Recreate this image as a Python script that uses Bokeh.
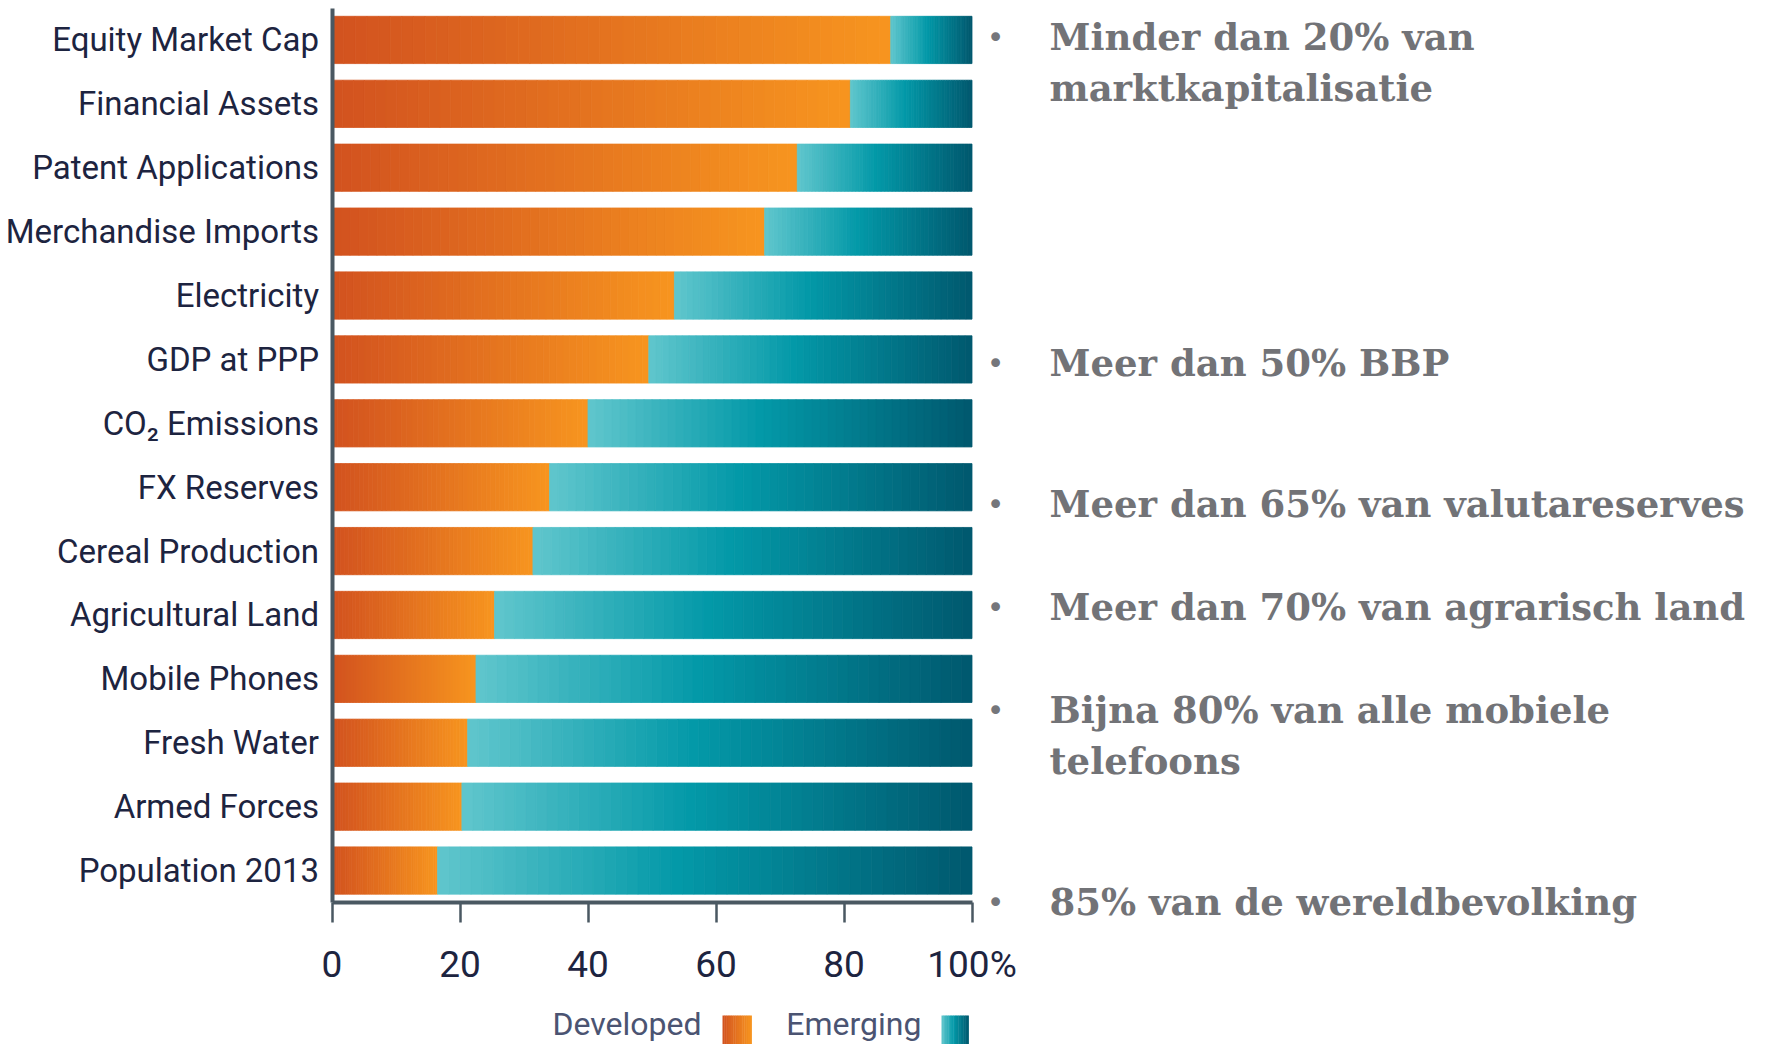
import numpy as np
from bokeh.plotting import figure
from bokeh.models import ColumnDataSource, FixedTicker, Range1d
from bokeh.core.properties import value
from bokeh.embed import file_html
from bokeh.resources import INLINE

# ---------------- data ----------------
categories = ["Equity Market Cap", "Financial Assets", "Patent Applications",
              "Merchandise Imports", "Electricity", "GDP at PPP", "CO\u2082 Emissions",
              "FX Reserves", "Cereal Production", "Agricultural Land", "Mobile Phones",
              "Fresh Water", "Armed Forces", "Population 2013"]
developed = [87.3, 81.0, 72.7, 67.6, 53.5, 49.5, 40.0, 34.0, 31.4, 25.4, 22.5, 21.2, 20.3, 16.5]
emerging = [round(100 - d, 1) for d in developed]
x_ticks = [0, 20, 40, 60, 80, 100]
x_tick_labels = ["0", "20", "40", "60", "80", "100%"]
series_names = ["Developed", "Emerging"]
notes = [
    ["Minder dan 20% van", "marktkapitalisatie"],
    ["Meer dan 50% BBP"],
    ["Meer dan 65% van valutareserves"],
    ["Meer dan 70% van agrarisch land"],
    ["Bijna 80% van alle mobiele", "telefoons"],
    ["85% van de wereldbevolking"],
]

# ---------------- canvas geometry (pixels) ----------------
W, H = 1760, 1044
X0_PX, X100_PX = 331.5, 971.5          # x = 0 and x = 100
YTOP_PX, YBOT_PX = 7.5, 902.0          # top of first row, bottom of last row
PX_X = (X100_PX - X0_PX) / 100.0
n = len(categories)
PX_Y = (YBOT_PX - YTOP_PX) / n
TEXT_SHIFT = 13.5                      # svg alphabetic-baseline correction


def fx(px):
    return (px - X0_PX) / PX_X


def fy(py):
    return (YBOT_PX - py) / PX_Y


ypos = [n - 0.5 - i for i in range(n)]   # row centres, first category on top

ORANGE = [(0.0, (210, 82, 31)), (1.0, (247, 149, 31))]
TEAL = [(0.0, (96, 198, 205)), (0.45, (3, 153, 168)), (1.0, (0, 88, 110))]


def grad(stops, t):
    for (p0, c0), (p1, c1) in zip(stops[:-1], stops[1:]):
        if t <= p1:
            u = (t - p0) / (p1 - p0) if p1 > p0 else 0
            c = [round(a + (b - a) * u) for a, b in zip(c0, c1)]
            return "#%02x%02x%02x" % tuple(c)
    return "#%02x%02x%02x" % stops[-1][1]


N = 48
ys, lefts, rights, cols = [], [], [], []
for yc, d, e in zip(ypos, developed, emerging):
    for (a, b, stops) in ((0.0, d, ORANGE), (d, d + e, TEAL)):
        edges = np.linspace(a, b, N + 1)
        for i in range(N):
            ys.append(yc)
            lefts.append(edges[i])
            rights.append(edges[i + 1])
            cols.append(grad(stops, (i + 0.5) / N))
src = ColumnDataSource(dict(y=ys, left=lefts, right=rights, color=cols))

p = figure(width=W, height=H,
           x_range=Range1d(fx(0), fx(W)), y_range=Range1d(fy(H), fy(0)),
           min_border_left=0, min_border_right=0, min_border_top=0, min_border_bottom=0,
           output_backend="svg", toolbar_location=None)
p.hbar(y="y", left="left", right="right", height=0.74, fill_color="color",
       line_color="color", line_width=0.8, source=src)

p.xgrid.visible = False
p.ygrid.visible = False
p.outline_line_color = None
p.background_fill_color = "white"
p.border_fill_color = "white"

AX = "#4a5862"
LABEL_COL = "#1d2440"
# y axis (categories)
p.yaxis.fixed_location = 0
p.yaxis.bounds = (0, n)
p.yaxis.ticker = FixedTicker(ticks=ypos)
p.yaxis.major_label_overrides = {y: c for y, c in zip(ypos, categories)}
p.yaxis.axis_line_width = 4
p.yaxis.axis_line_color = AX
p.yaxis.major_tick_line_color = None
p.yaxis.minor_tick_line_color = None
p.yaxis.major_label_text_font = "Roboto"
p.yaxis.major_label_text_font_size = "33px"
p.yaxis.major_label_text_color = LABEL_COL
p.yaxis.major_label_standoff = 7

# x axis (percent)
p.xaxis.fixed_location = 0
p.xaxis.bounds = (0, 100)
p.xaxis.ticker = FixedTicker(ticks=x_ticks)
p.xaxis.major_label_overrides = {t: l for t, l in zip(x_ticks, x_tick_labels)}
p.xaxis.axis_line_width = 4
p.xaxis.axis_line_color = AX
p.xaxis.major_tick_out = 20
p.xaxis.major_tick_in = 0
p.xaxis.major_tick_line_width = 2.5
p.xaxis.major_tick_line_color = AX
p.xaxis.minor_tick_line_color = None
p.xaxis.major_label_text_font = "Roboto"
p.xaxis.major_label_text_font_size = "37px"
p.xaxis.major_label_text_color = LABEL_COL
p.xaxis.major_label_standoff = 20

# ---------------- legend ----------------
LEG_TOP, LEG_BOT = 1015, H
legend_layout = [  # text right edge, square left, square right (px)
    (701, 722, 751),
    (921, 941, 968),
]
leg_stops = [ORANGE, TEAL]
lq = dict(left=[], right=[], top=[], bottom=[], color=[])
lt = dict(x=[], y=[], text=[])
for name, (tr, sl, sr), stops in zip(series_names, legend_layout, leg_stops):
    lt["x"].append(fx(tr))
    lt["y"].append(fy(1037 - TEXT_SHIFT))
    lt["text"].append(name)
    M = 16
    for i in range(M):
        lq["left"].append(fx(sl + (sr - sl) * i / M))
        lq["right"].append(fx(sl + (sr - sl) * (i + 1) / M + 0.4))
        lq["top"].append(fy(LEG_TOP))
        lq["bottom"].append(fy(LEG_BOT))
        lq["color"].append(grad(stops, (i + 0.5) / M))
p.quad(left="left", right="right", top="top", bottom="bottom", fill_color="color",
       line_color=None, source=ColumnDataSource(lq))
p.text(x="x", y="y", text="text", source=ColumnDataSource(lt),
       text_font=value("Roboto"), text_font_size="32px", text_color="#4b5472",
       text_align="right", text_baseline="alphabetic")

# ---------------- notes ----------------
note_first_baselines = [50, 376, 517, 620, 723, 915]
LINE_GAP = 51
nt = dict(x=[], y=[], text=[])
bt = dict(x=[], y=[], text=[])
for lines, base in zip(notes, note_first_baselines):
    bt["x"].append(fx(995))
    bt["y"].append(fy(base - 13))
    bt["text"].append("\u2022")
    for k, line in enumerate(lines):
        nt["x"].append(fx(1049))
        nt["y"].append(fy(base + k * LINE_GAP - TEXT_SHIFT))
        nt["text"].append(line)
p.text(x="x", y="y", text="text", source=ColumnDataSource(bt),
       text_font=value("DejaVu Sans"), text_font_size="30px", text_color="#75767b",
       text_align="center", text_baseline="middle")
p.text(x="x", y="y", text="text", source=ColumnDataSource(nt),
       text_font=value("DejaVu Serif"), text_font_style="bold",
       text_font_size="37px", text_color="#727377",
       text_align="left", text_baseline="alphabetic")

open("out.html", "w").write(file_html(p, INLINE))
